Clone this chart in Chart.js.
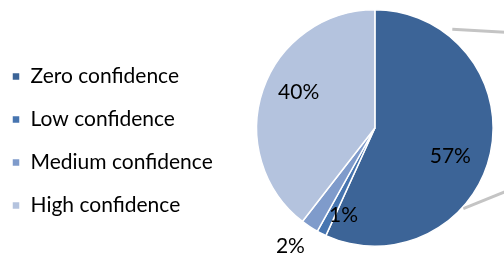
<!DOCTYPE html>
<html>
<head>
<meta charset="utf-8">
<script src="https://cdn.jsdelivr.net/npm/chart.js@4/dist/chart.umd.min.js"></script>
<style>
  html, body { margin: 0; padding: 0; background: #fff; overflow: hidden; }
  /* le second graphique est hors cadre : le canvas déborde un peu à droite */
  #wrap { width: 527px; height: 256px; }
</style>
</head>
<body>
<div id="wrap"><canvas id="graphique-confiance"></canvas></div>
<script>
// Catégories et valeurs (en %)
const categories = ["Zero confidence", "Low confidence", "Medium confidence", "High confidence"]
const valeurs = [56.8, 1.3, 2.4, 39.5]
const couleurs = ["#3c6497", "#4775b0", "#7f9bcb", "#b4c3de"]
const etiquettes = valeurs.map((v) => Math.round(v) + "%")

// Réglage de la position de chaque étiquette (fraction du rayon, décalage d'angle en degrés)
const placeEtiquette = [
  { f: 0.68, da: 8 },
  { f: 0.78, da: -7 },
  { f: 1.23, da: 2 },
  { f: 0.71, da: 6 },
]

const FONT = "Lato, 'Open Sans', sans-serif"

/* Étiquettes de pourcentage dessinées sur chaque part */
const pluginEtiquettes = {
  id: "etiquettes",
  afterDatasetsDraw(chart) {
    const ctx = chart.ctx
    const meta = chart.getDatasetMeta(0)
    ctx.save()
    ctx.font = "21px " + FONT
    ctx.fillStyle = "#000"
    ctx.textAlign = "center"
    ctx.textBaseline = "middle"
    meta.data.forEach((arc, i) => {
      const p = arc.getProps(["x", "y", "startAngle", "endAngle", "outerRadius"], true)
      const a = (p.startAngle + p.endAngle) / 2 + (placeEtiquette[i].da * Math.PI) / 180
      const r = p.outerRadius * placeEtiquette[i].f
      ctx.fillText(etiquettes[i], p.x + Math.cos(a) * r, p.y + Math.sin(a) * r)
    })
    ctx.restore()
  },
}

/* Lignes grises de liaison vers le second graphique (hors cadre à droite) */
const pluginLiaisons = {
  id: "liaisons",
  beforeDatasetsDraw(chart) {
    const ctx = chart.ctx
    const arc = chart.getDatasetMeta(0).data[0]
    if (!arc) return
    const p = arc.getProps(["x", "y", "outerRadius"], true)
    const R = p.outerRadius
    // extrémités en fraction du rayon, depuis le centre
    const lignes = [
      [0.655, -0.836, 1.4, -0.793],
      [0.748, 0.681, 1.4, 0.419],
    ]
    ctx.save()
    ctx.strokeStyle = "#c4c4c4"
    ctx.lineWidth = 3
    lignes.forEach((l) => {
      ctx.beginPath()
      ctx.moveTo(p.x + l[0] * R, p.y + l[1] * R)
      ctx.lineTo(p.x + l[2] * R, p.y + l[3] * R)
      ctx.stroke()
    })
    ctx.restore()
  },
}

const data = {
  labels: categories,
  datasets: [
    {
      data: valeurs,
      backgroundColor: couleurs,
      borderColor: "#ffffff",
      borderWidth: 1.5,
    },
  ],
}

const config = {
  type: "pie",
  data: data,
  options: {
    responsive: true,
    maintainAspectRatio: false,
    animation: false,
    layout: { padding: { top: 9, bottom: 9, left: -10, right: 0 } },
    plugins: {
      tooltip: { enabled: false },
      legend: {
        position: "left",
        // titre vide : sert seulement à descendre la légende
        title: { display: true, text: " ", font: { size: 10 }, padding: { top: 7, bottom: 7 } },
        labels: {
          boxWidth: 8,
          boxHeight: 8,
          padding: 22,
          color: "#000",
          font: { family: FONT, size: 21 },
        },
      },
    },
  },
  plugins: [pluginLiaisons, pluginEtiquettes],
}

new Chart(document.querySelector("#graphique-confiance"), config)
</script>
</body>
</html>
